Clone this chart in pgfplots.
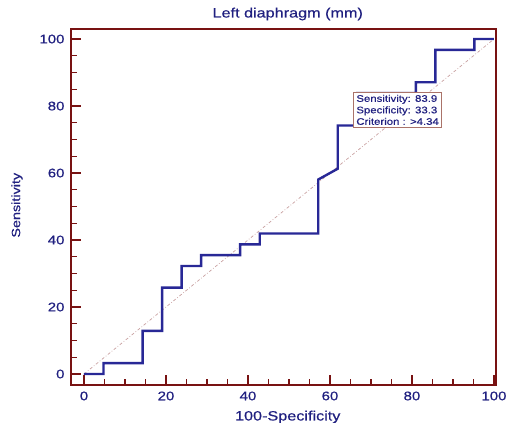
\documentclass[border=0pt]{standalone}
\usepackage{fontspec}
\setmainfont{Liberation Sans}[FakeStretch=1.2, FakeBold=0.5]
\usepackage{pgfplots}
\pgfplotsset{compat=1.18}
\definecolor{frame}{RGB}{120,18,18}
\definecolor{navy}{RGB}{32,32,128}
\definecolor{roc}{RGB}{40,40,150}
\definecolor{diag}{RGB}{200,160,160}
\definecolor{boxedge}{RGB}{170,115,105}
\begin{document}
\begin{tikzpicture}
\begin{axis}[
  at={(0,0)}, anchor=south west,
  scale only axis, width=425pt, height=356pt,
  xmin=-3.17, xmax=100.5, ymin=-3.28, ymax=103,
  xtick={0,20,...,100}, ytick={0,20,...,100},
  minor tick num=3,
  xtick pos=left, ytick pos=left,
  tick align=inside,
  major tick length=10pt, minor tick length=6pt,
  every tick/.style={frame, line width=1.4pt},
  axis line style={frame, line width=2pt},
  /pgf/number format/assume math mode=true,
  ticklabel style={font=\fontsize{12.5}{13}\selectfont, text=navy},
  xticklabel style={yshift=-3pt},
  yticklabel style={xshift=-3pt},
  every axis title shift=0pt,
  title={Left diaphragm (mm)},
  title style={at={(axis description cs:0.51,1)}, yshift=15pt, anchor=center, font=\fontsize{13.5}{14}\selectfont, text=navy},
  xlabel={100-Specificity},
  xlabel style={at={(axis description cs:0.51,0)}, yshift=-32pt, anchor=center, font=\fontsize{13.5}{14}\selectfont, text=navy},
  ylabel={Sensitivity},
  ylabel style={at={(axis description cs:-0.127,0.505)}, anchor=center, font=\fontsize{12}{13}\selectfont, text=navy},
  clip=false,
]
\addplot[diag, line width=0.7pt, dash dot, forget plot] coordinates {(0,0) (100,100)};
\addplot[roc, line width=2.4pt, line join=miter] coordinates {
(0,0) (4.76,0) (4.76,3.23) (14.29,3.23) (14.29,12.90) (19.05,12.90) (19.05,25.81)
(23.81,25.81) (23.81,32.26) (28.57,32.26) (28.57,35.48) (38.10,35.48) (38.10,38.71)
(42.86,38.71) (42.86,41.94) (57.14,41.94) (57.14,58.06) (61.90,61.29) (61.90,74.19)
(66.67,74.19) (66.67,83.87) (80.95,83.87) (80.95,87.10) (85.71,87.10) (85.71,96.77)
(95.24,96.77) (95.24,100) (100,100)};
\node[draw=boxedge, fill=white, line width=0.9pt, anchor=north west, align=left,
  inner xsep=3pt, inner ysep=2.5pt, text=navy, font=\fontsize{9.5}{11.5}\selectfont]
  at (axis cs:65.6,84.2) {Sensitivity: 83.9\\Specificity: 33.3\\Criterion : >4.34};
\end{axis}
\pgfresetboundingbox
\path (-71pt,-38pt) rectangle (436pt,385pt);
\end{tikzpicture}
\end{document}
